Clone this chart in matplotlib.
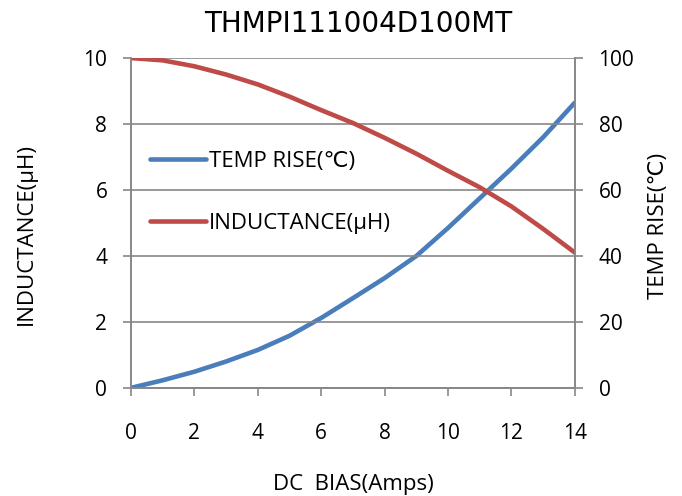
import matplotlib
matplotlib.use("Agg")
import matplotlib.pyplot as plt

# DC bias (A)
bias = [0, 1, 2, 3, 4, 5, 6, 7, 8, 9, 10, 11, 12, 13, 14]
# inductance (uH), left axis
inductance = [10.0, 9.93, 9.75, 9.5, 9.2, 8.83, 8.42, 8.03, 7.58, 7.1, 6.58, 6.08, 5.5, 4.82, 4.1]
# temperature rise (C), right axis
temp_rise = [0.0, 2.3, 4.9, 8.0, 11.5, 15.8, 21.2, 27.2, 33.3, 40.0, 48.5, 57.5, 66.5, 76.0, 86.5]

x_ticks = [0, 2, 4, 6, 8, 10, 12, 14]
left_ticks = [0, 2, 4, 6, 8, 10]
right_ticks = [0, 20, 40, 60, 80, 100]

font = ["Open Sans", "DejaVu Sans"]
grey = "#878787"
blue = "#4a7ebb"
red = "#be4b48"

fig = plt.figure(figsize=(6.82, 4.96), dpi=100)
ax = fig.add_axes([0.192, 0.218, 0.651, 0.665])
ax2 = ax.twinx()

ax.set_xlim(0, 14)
ax.set_ylim(0, 10)
ax2.set_ylim(0, 100)
ax.set_xticks(x_ticks)
ax.set_yticks(left_ticks)
ax2.set_yticks(right_ticks)

ax.yaxis.grid(True, color=grey, linewidth=1.2)
ax.set_axisbelow(True)

for a in (ax, ax2):
    for s in a.spines.values():
        s.set_color(grey)
        s.set_linewidth(1.2)
    a.tick_params(colors=grey, width=1.2, length=6, labelcolor="black", labelsize=15)
    for lbl in a.get_xticklabels() + a.get_yticklabels():
        lbl.set_family(font)
ax.spines["top"].set_visible(False)
ax2.spines["top"].set_visible(False)
ax.tick_params(axis="x", pad=19)
ax.tick_params(axis="y", pad=11)
ax2.tick_params(axis="y", pad=11)

ax2.plot(bias, temp_rise, color=blue, linewidth=3.3, solid_capstyle="round",
         solid_joinstyle="round", label="TEMP RISE(℃)")
ax.plot(bias, inductance, color=red, linewidth=3.3, solid_capstyle="round",
        solid_joinstyle="round", label="INDUCTANCE(μH)")
ax.set_zorder(ax2.get_zorder() + 1)
ax.patch.set_visible(False)

ax.set_xlabel("DC  BIAS(Amps)", family=font, fontsize=16, labelpad=22)
ax.set_ylabel("INDUCTANCE(μH)", family=font, fontsize=16)
ax2.set_ylabel("TEMP RISE(℃)", family=font, fontsize=16)
ax.yaxis.set_label_coords(-0.212, 0.467)
ax2.yaxis.set_label_coords(1.165, 0.49)

fig.text(0.525, 0.952, "THMPI111004D100MT", ha="center", va="center",
         family="DejaVu Sans", fontsize=20)

h1, l1 = ax2.get_legend_handles_labels()
h2, l2 = ax.get_legend_handles_labels()
leg = ax.legend(h1 + h2, l1 + l2, loc="upper left", bbox_to_anchor=(0.043, 0.719),
                frameon=False, prop={"family": font, "size": 16},
                borderpad=0, borderaxespad=0,
                handlelength=2.5, handletextpad=0.15, labelspacing=1.85)

fig.savefig("out.png", dpi=100)
